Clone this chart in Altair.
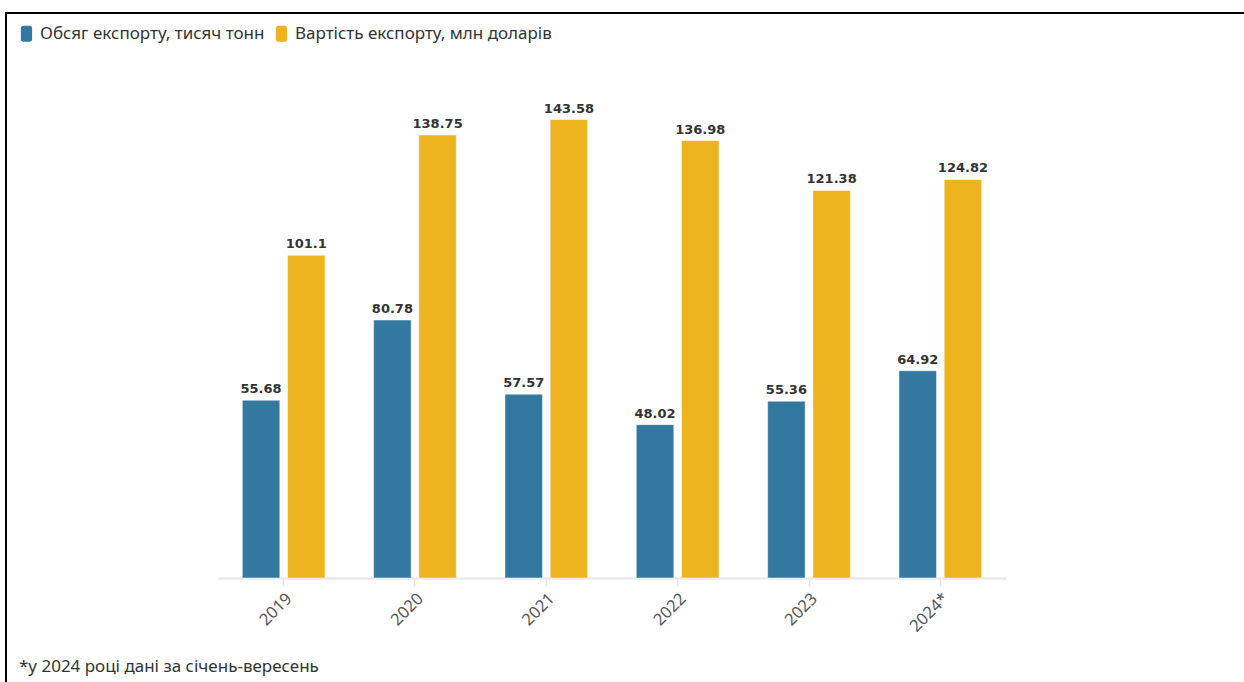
import altair as alt
import pandas as pd

years = ["2019", "2020", "2021", "2022", "2023", "2024*"]
volume = [55.68, 80.78, 57.57, 48.02, 55.36, 64.92]
export_value = [101.1, 138.75, 143.58, 136.98, 121.38, 124.82]
series = ["Обсяг експорту, тисяч тонн", "Вартість експорту, млн доларів"]
colors = ["#33799F", "#EDB420"]
footnote = "*у 2024 році дані за січень-вересень"

rows = []
for i, yr in enumerate(years):
    rows.append({"year": yr, "series": series[0], "v": volume[i], "label": str(volume[i])})
    rows.append({"year": yr, "series": series[1], "v": export_value[i], "label": str(export_value[i])})
df = pd.DataFrame(rows)

rounded = ("M-0.4,-1 H0.4 A0.3,0.3 0 0 1 0.7,-0.7 V0.7 A0.3,0.3 0 0 1 0.4,1 "
           "H-0.4 A0.3,0.3 0 0 1 -0.7,0.7 V-0.7 A0.3,0.3 0 0 1 -0.4,-1 Z")

x = alt.X("year:N", sort=years,
          scale=alt.Scale(paddingInner=0.37, paddingOuter=0.185),
          axis=alt.Axis(title=None, labelAngle=-45, labelFont="Noto Sans", labelFontSize=16.5,
                        labelColor="#555555", domainColor="#e6e6e6", domainWidth=2,
                        tickColor="#e6e6e6", tickSize=8, tickWidth=1.5, labelPadding=4))
xo = alt.XOffset("series:N", sort=series, scale=alt.Scale(paddingInner=0.17, paddingOuter=0))
y = alt.Y("v:Q", scale=alt.Scale(domain=[0, 150]), axis=None)

base = alt.Chart(df)
bars = base.mark_bar(stroke="#ffffff", strokeWidth=1, strokeOpacity=0.5).encode(
    x=x, xOffset=xo, y=y,
    color=alt.Color("series:N", sort=series,
                    scale=alt.Scale(domain=series, range=colors),
                    legend=alt.Legend(title=None, orient="none", legendX=-200, legendY=-74,
                                      direction="horizontal", symbolType=rounded, symbolSize=256,
                                      symbolStrokeWidth=0, labelFont="Noto Sans", labelFontSize=17,
                                      labelColor="#333333", columnPadding=8, labelOffset=5,
                                      labelLimit=0)),
)
labels = base.mark_text(dy=-7, baseline="alphabetic", font="DejaVu Sans", fontWeight="bold",
                        fontSize=13, color="#333333").encode(
    x=x, xOffset=xo, y=y, text="label:N")

frame = pd.DataFrame({"note": [footnote]})
top_line = alt.Chart(frame).mark_rule(color="#000000", strokeWidth=2).encode(
    x=alt.value(-213), x2=alt.value(1030), y=alt.value(-86))
left_line = alt.Chart(frame).mark_rule(color="#000000", strokeWidth=2).encode(
    x=alt.value(-212), y=alt.value(-87), y2=alt.value(590))
note = alt.Chart(frame).mark_text(align="left", baseline="middle", font="Noto Sans",
                                  fontSize=17, color="#333333").encode(
    x=alt.value(-199), y=alt.value(568), text="note:N")

chart = alt.layer(bars, labels, top_line, left_line, note).properties(
    width=788, height=479,
    autosize=alt.AutoSizeParams(type="none"),
    padding={"left": 218, "top": 99, "right": 238, "bottom": 104},
    background="white",
).configure_view(stroke=None)

chart.save("out.html", embed_options={"renderer": "svg", "actions": False})
